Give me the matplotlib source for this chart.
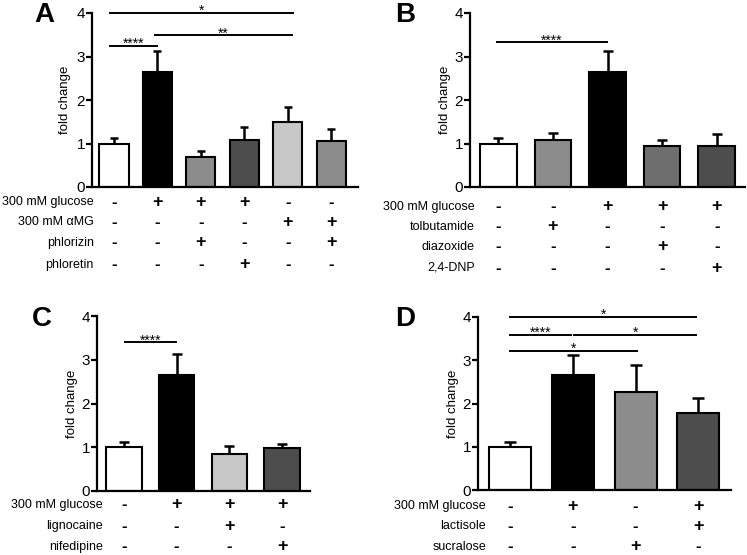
import matplotlib
matplotlib.use("Agg")
import matplotlib.pyplot as plt
import matplotlib.transforms as mtransforms

plt.rcParams['font.family'] = ['Liberation Sans', 'DejaVu Sans']

# ---------------- data ----------------
# Panel A
a_means = [1.00, 2.65, 0.70, 1.08, 1.50, 1.05]
a_err_top = [1.12, 3.13, 0.82, 1.38, 1.84, 1.33]
a_colors = ['#ffffff', '#000000', '#8c8c8c', '#4d4d4d', '#c8c8c8', '#8c8c8c']
a_rows = ['300 mM glucose', '300 mM \u03b1MG', 'phlorizin', 'phloretin']
a_table = [['-', '+', '+', '+', '-', '-'],
           ['-', '-', '-', '-', '+', '+'],
           ['-', '-', '+', '-', '-', '+'],
           ['-', '-', '-', '+', '-', '-']]
a_sig = [(-0.09, 4.12, 4.00, '*'), (0.94, 4.10, 3.49, '**'), (-0.09, 0.99, 3.24, '****')]

# Panel B
b_means = [1.00, 1.08, 2.65, 0.95, 0.95]
b_err_top = [1.12, 1.25, 3.13, 1.08, 1.22]
b_colors = ['#ffffff', '#8c8c8c', '#000000', '#6e6e6e', '#4d4d4d']
b_rows = ['300 mM glucose', 'tolbutamide', 'diazoxide', '2,4-DNP']
b_table = [['-', '-', '+', '+', '+'],
           ['-', '+', '-', '-', '-'],
           ['-', '-', '-', '+', '-'],
           ['-', '-', '-', '-', '+']]
b_sig = [(-0.03, 1.99, 3.33, '****')]

# Panel C
c_means = [1.00, 2.65, 0.85, 0.98]
c_err_top = [1.12, 3.13, 1.03, 1.07]
c_colors = ['#ffffff', '#000000', '#c8c8c8', '#4d4d4d']
c_rows = ['300 mM glucose', 'lignocaine', 'nifedipine']
c_table = [['-', '+', '+', '+'],
           ['-', '-', '+', '-'],
           ['-', '-', '-', '+']]
c_sig = [(0.02, 0.99, 3.40, '****')]

# Panel D
d_means = [1.00, 2.65, 2.26, 1.78]
d_err_top = [1.12, 3.13, 2.90, 2.12]
d_colors = ['#ffffff', '#000000', '#8c8c8c', '#4d4d4d']
d_rows = ['300 mM glucose', 'lactisole', 'sucralose']
d_table = [['-', '+', '-', '+'],
           ['-', '-', '-', '+'],
           ['-', '-', '+', '-']]
d_sig = [(0.0, 2.97, 4.00, '*'), (0.0, 0.97, 3.59, '****'),
         (1.02, 2.97, 3.59, '*'), (0.0, 2.03, 3.22, '*')]

W, H = 747, 555
fig = plt.figure(figsize=(W / 100, H / 100), dpi=100)


def px_axes(x0, x1, ytop, ybot):
    return fig.add_axes([x0 / W, 1 - ybot / H, (x1 - x0) / W, (ybot - ytop) / H])


def panel(axbox, xlim, means, errs, colors, rows, table, sigs, row_y, label_x,
          ylab_x, letter, letter_xy, capsize):
    ax = px_axes(*axbox)
    x = list(range(len(means)))
    ax.bar(x, means, width=0.67, color=colors, edgecolor='black', linewidth=1.5,
           zorder=2)
    for xi, m, e in zip(x, means, errs):
        ax.errorbar([xi], [m], yerr=[[0], [e - m]], fmt='none', ecolor='black',
                    elinewidth=1.8, capsize=capsize, capthick=1.8, zorder=1)
    ax.set_xlim(*xlim)
    ax.set_ylim(0, 4)
    ax.set_yticks([0, 1, 2, 3, 4])
    ax.set_xticks([])
    for s in ['top', 'right']:
        ax.spines[s].set_visible(False)
    for s in ['left', 'bottom']:
        ax.spines[s].set_linewidth(1.6)
    ax.tick_params(axis='y', direction='out', length=4, width=1.6, labelsize=11,
                   pad=1)
    for x0, x1, yv, txt in sigs:
        ax.plot([x0, x1], [yv, yv], color='black', lw=1.4, clip_on=False)
        ax.text((x0 + x1) / 2, yv - 0.05, txt, ha='center', va='baseline',
                fontsize=10)
    # y label
    fig.text(ylab_x / W, 1 - (axbox[2] + axbox[3]) / 2 / H, 'fold change',
             rotation=90, ha='center', va='center', fontsize=9.5)
    # table
    tr = mtransforms.blended_transform_factory(ax.transData, fig.transFigure)
    for r, (name, marks) in enumerate(zip(rows, table)):
        yy = 1 - row_y[r] / H
        fig.text(label_x / W, yy, name, ha='right', va='center', fontsize=9)
        for xi, mk in zip(x, marks):
            ax.text(xi, yy, mk, transform=tr, ha='center', va='center',
                    fontsize=13 if mk == '+' else 12, fontweight='bold')
    fig.text(letter_xy[0] / W, 1 - letter_xy[1] / H, letter, ha='center',
             va='center', fontsize=20, fontweight='bold')
    return ax


panel((92, 358, 13, 187), (-0.507, 5.62), a_means, a_err_top, a_colors, a_rows,
      a_table, a_sig, [202, 222, 243, 265], 94, 65, 'A', (44, 15), 3)
panel((470, 745, 13, 187), (-0.52, 4.52), b_means, b_err_top, b_colors, b_rows,
      b_table, b_sig, [207, 227, 247, 268], 475, 445, 'B', (405, 15), 3.5)
panel((97, 310, 316, 491), (-0.51, 3.53), c_means, c_err_top, c_colors, c_rows,
      c_table, c_sig, [505, 526, 547], 103, 72, 'C', (42, 319), 3.5)
panel((478, 731, 317, 490), (-0.51, 3.52), d_means, d_err_top, d_colors, d_rows,
      d_table, d_sig, [506, 526, 547], 486, 453, 'D', (405, 319), 4)

fig.savefig('out.png', dpi=100)
